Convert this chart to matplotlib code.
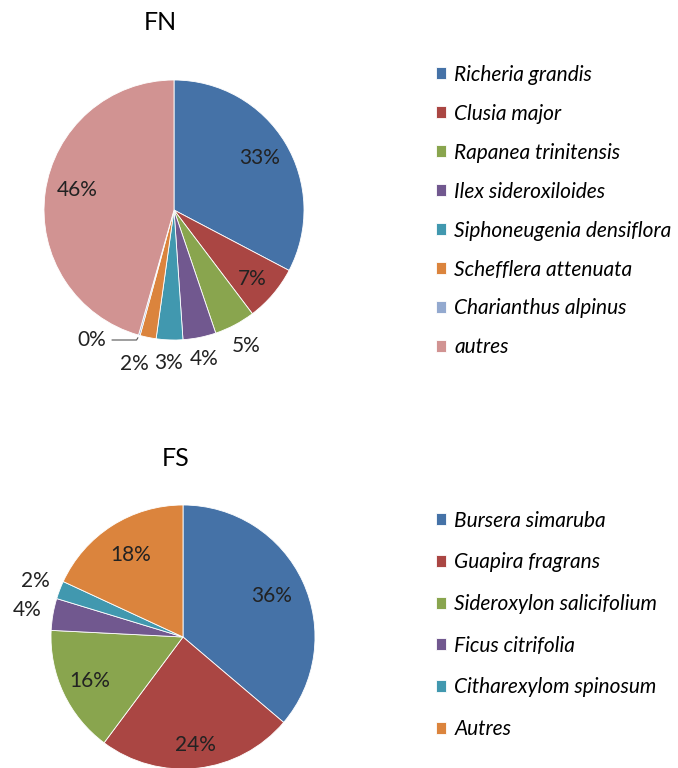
import numpy as np
import matplotlib as mpl
import matplotlib.pyplot as plt

mpl.rcParams['font.family'] = ['Lato', 'DejaVu Sans']

# data
fn_labels = ['Richeria grandis', 'Clusia major', 'Rapanea trinitensis',
             'Ilex sideroxiloides', 'Siphoneugenia densiflora',
             'Schefflera attenuata', 'Charianthus alpinus', 'autres']
fn_values = [32.7, 7.0, 5.1, 4.1, 3.3, 2.0, 0.2, 45.6]
fn_colors = ['#4572A7', '#AA4643', '#89A54E', '#71588F',
             '#4198AF', '#DB843D', '#93A9CF', '#D19392']

fs_labels = ['Bursera simaruba', 'Guapira fragrans', 'Sideroxylon salicifolium',
             'Ficus citrifolia', 'Citharexylom spinosum', 'Autres']
fs_values = [36.2, 24.0, 15.6, 3.9, 2.2, 18.1]
fs_colors = ['#4572A7', '#AA4643', '#89A54E', '#71588F', '#4198AF', '#DB843D']

W, H = 678, 768
fig = plt.figure(figsize=(W/100, H/100), dpi=100)
PCT_SIZE = 15
LEG_SIZE = 15


def px_axes(cx, cy, r):
    return fig.add_axes([(cx - r)/W, (H - cy - r)/H, 2*r/W, 2*r/H])


def draw_pie(ax, values, colors, label_pos):
    # label_pos: (radius factor, angle shift in degrees) per wedge, or None
    wedges, _ = ax.pie(values, colors=colors, startangle=90, counterclock=False,
                       radius=1, wedgeprops=dict(linewidth=0.6, edgecolor='white'))
    ax.set_xlim(-1, 1)
    ax.set_ylim(-1, 1)
    ax.set_aspect('equal')
    ax.axis('off')
    total = sum(values)
    for w, v, pos in zip(wedges, values, label_pos):
        if pos is None:
            continue
        rr, shift = pos
        ang = np.deg2rad((w.theta1 + w.theta2) / 2 + shift)
        ax.text(rr*np.cos(ang), rr*np.sin(ang), '%d%%' % round(100*v/total),
                ha='center', va='center', fontsize=PCT_SIZE, color='#222222')
    return wedges


# FN pie
ax1 = px_axes(174, 210, 130)
fn_pos = [(0.77, 0), (0.8, -1), (1.18, 0), (1.17, 0), (1.18, 0), (1.22, -3), None, (0.76, -4)]
w1 = draw_pie(ax1, fn_values, fn_colors, fn_pos)
# tiny slice label with leader line
ang = np.deg2rad((w1[6].theta1 + w1[6].theta2) / 2)
ax1.annotate('0%', xy=(np.cos(ang), np.sin(ang)), xytext=(-0.52, -1.0),
             ha='right', va='center', fontsize=PCT_SIZE, color='#222222',
             arrowprops=dict(arrowstyle='-', color='#555555', lw=0.8,
                             connectionstyle='angle,angleA=0,angleB=60,rad=0'))
fig.text(160/W, 1 - 23/H, 'FN', ha='center', va='center', fontsize=18)

fig.legend(w1, fn_labels, loc='upper left', bbox_to_anchor=(417/W, 1 - 46/H),
           frameon=False, prop=dict(style='italic', size=LEG_SIZE),
           handlelength=0.5, handleheight=0.5, handletextpad=0.4,
           labelspacing=0.91)

# FS pie
ax2 = px_axes(183, 637, 132)
fs_pos = [(0.74, 0), (0.82, 0), (0.78, 0), (1.2, 0), (1.2, 0), (0.74, 0)]
w2 = draw_pie(ax2, fs_values, fs_colors, fs_pos)
fig.text(176/W, 1 - 458/H, 'FS', ha='center', va='center', fontsize=18)

fig.legend(w2, fs_labels, loc='upper left', bbox_to_anchor=(417/W, 1 - 492/H),
           frameon=False, prop=dict(style='italic', size=LEG_SIZE),
           handlelength=0.5, handleheight=0.5, handletextpad=0.4,
           labelspacing=1.04)

plt.savefig('out.png', dpi=100)
